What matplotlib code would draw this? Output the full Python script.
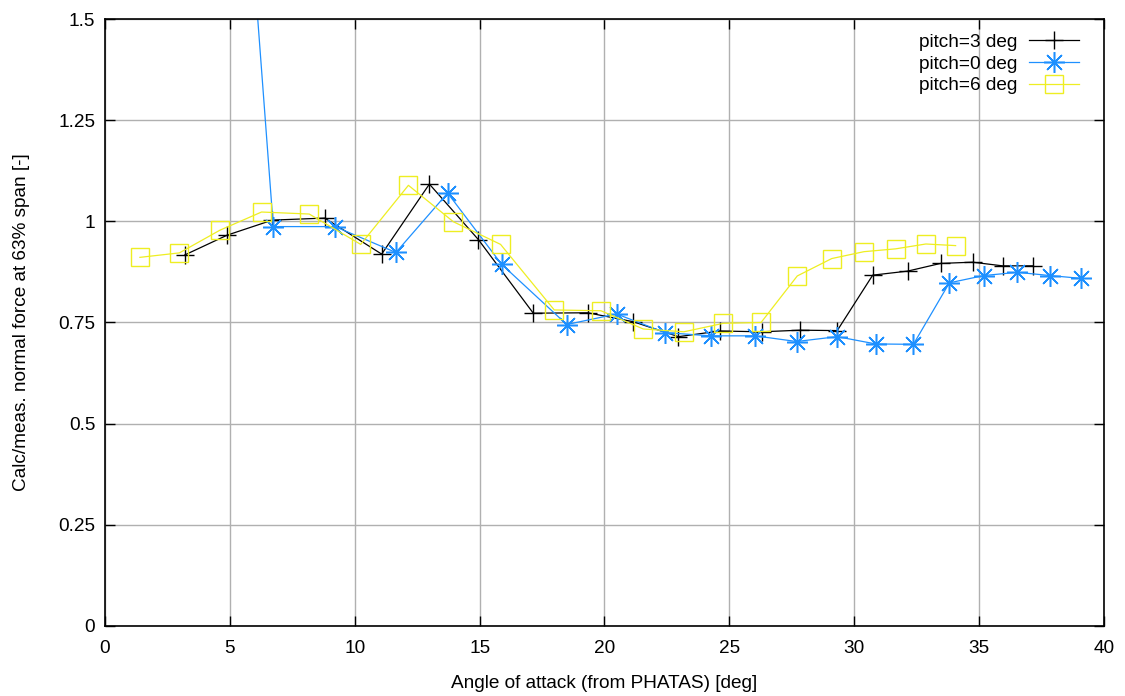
import matplotlib
matplotlib.use('Agg')
import matplotlib.pyplot as plt
from matplotlib.ticker import FuncFormatter

plt.rcParams['font.family'] = ['Liberation Sans', 'DejaVu Sans']

# Calc/meas. ratio of normal force at 63% span, per pitch setting
aoa_p3 = [3.2, 4.9, 6.7, 8.8, 11.08, 12.99, 14.95, 17.15, 19.33, 21.15, 22.96,
          24.62, 26.29, 27.83, 29.32, 30.74, 32.14, 33.46, 34.74, 35.94, 37.17]
ratio_p3 = [0.917, 0.966, 1.003, 1.008, 0.919, 1.092, 0.955, 0.773, 0.774, 0.752, 0.715,
            0.729, 0.727, 0.731, 0.730, 0.867, 0.877, 0.896, 0.899, 0.890, 0.890]

aoa_p0 = [4.6, 6.74, 9.21, 11.65, 13.72, 15.88, 18.49, 20.49, 22.42, 24.25, 26.03,
          27.69, 29.32, 30.86, 32.37, 33.81, 35.19, 36.53, 37.84, 39.08]
ratio_p0 = [2.75, 0.987, 0.987, 0.923, 1.070, 0.894, 0.745, 0.771, 0.725, 0.717, 0.717,
            0.703, 0.715, 0.697, 0.696, 0.848, 0.866, 0.874, 0.866, 0.859]

aoa_p6 = [1.40, 2.98, 4.60, 6.27, 8.18, 10.24, 12.15, 13.95, 15.84, 17.99, 19.86,
          21.55, 23.18, 24.76, 26.27, 27.72, 29.10, 30.39, 31.66, 32.87, 34.06]
ratio_p6 = [0.911, 0.922, 0.978, 1.023, 1.018, 0.943, 1.089, 0.999, 0.943, 0.781, 0.779,
            0.734, 0.727, 0.748, 0.750, 0.865, 0.908, 0.925, 0.932, 0.944, 0.940]

fs = 13.7

fig = plt.figure(figsize=(11.25, 6.96), dpi=100)
ax = fig.add_axes([0.0933, 0.1006, 0.888, 0.8721])

ax.plot(aoa_p3, ratio_p3, color='black', lw=0.9, marker='+', ms=13.5, mew=1.0,
        label='pitch=3 deg')
ax.plot(aoa_p0, ratio_p0, color='#1e90ff', lw=0.9, marker=(8, 2, 0), ms=15, mew=1.1,
        label='pitch=0 deg')
ax.plot(aoa_p6, ratio_p6, color='#eeee22', lw=0.9, marker='s', ms=13.5, mew=1.0,
        mfc='none', label='pitch=6 deg')

ax.set_xlim(0, 40)
ax.set_ylim(0, 1.5)
ax.set_xticks(range(0, 41, 5))
ax.set_yticks([0, 0.25, 0.5, 0.75, 1, 1.25, 1.5])
ax.yaxis.set_major_formatter(FuncFormatter(lambda v, p: f'{v:g}'))
ax.tick_params(direction='in', length=7, width=1, top=True, right=True,
               labelsize=fs)
ax.tick_params(axis='x', pad=10)
ax.tick_params(axis='y', pad=7)
ax.grid(True, color='#b0b0b0', lw=1)
ax.set_axisbelow(True)
for sp in ax.spines.values():
    sp.set_linewidth(1.2)

ax.set_xlabel('Angle of attack (from PHATAS) [deg]', fontsize=fs)
ax.set_ylabel('Calc/meas. normal force at 63% span [-]', fontsize=fs)
ax.xaxis.set_label_coords(0.5, -0.08)
ax.yaxis.set_label_coords(-0.075, 0.5)

leg = ax.legend(loc='upper right', bbox_to_anchor=(0.983, 0.9885), borderaxespad=0,
                frameon=False, markerfirst=False, fontsize=fs,
                handlelength=2.65, handletextpad=0.6, labelspacing=0.23)

fig.savefig('out.png', dpi=100)
